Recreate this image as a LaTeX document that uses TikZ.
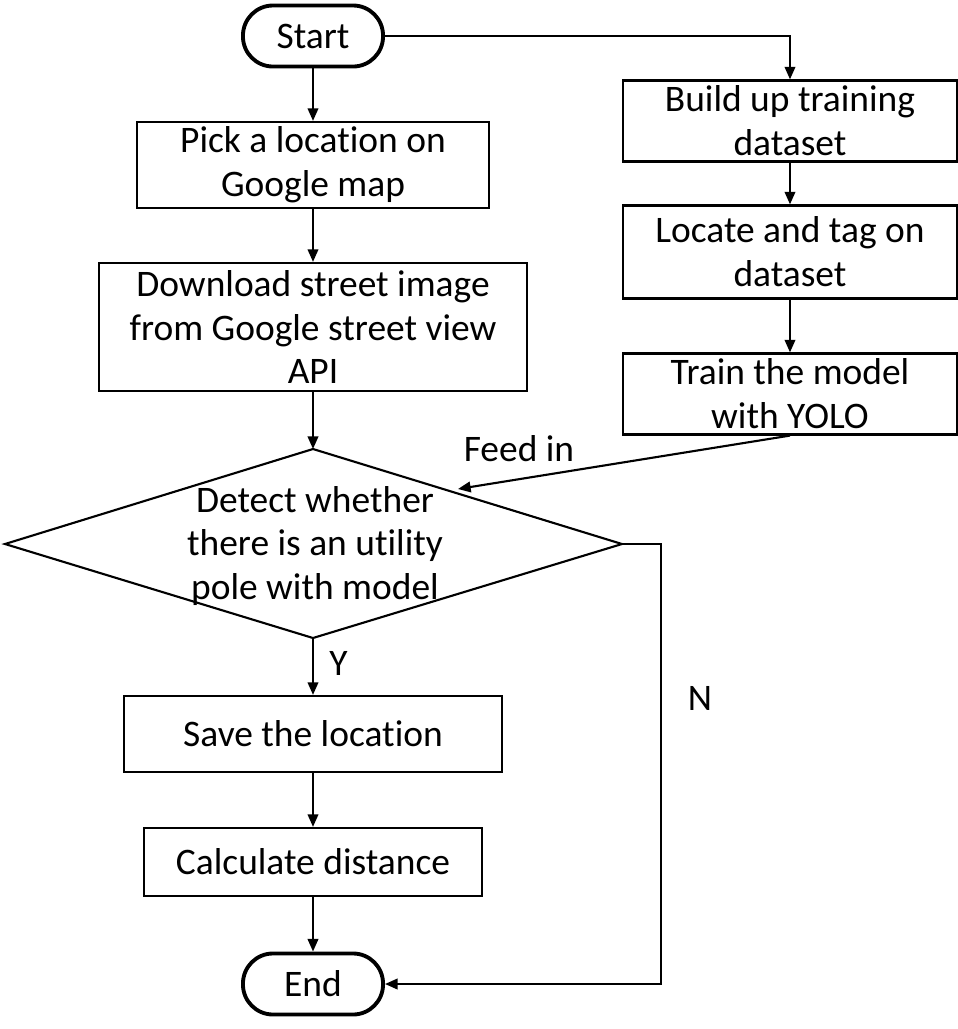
\documentclass[tikz,border=0pt]{standalone}
\usepackage{fontspec}
\setmainfont[Ligatures=NoCommon]{Carlito}
\usetikzlibrary{arrows.meta}

\begin{document}
\begin{tikzpicture}[x=0.01cm, y=-0.01cm,
    every node/.style={font=\fontsize{10.65pt}{12.5pt}\selectfont, align=center},
    box/.style={draw, line width=0.6pt, inner sep=0pt},
    term/.style={draw, line width=1.1pt, rounded corners=0.3cm, minimum width=1.4cm, minimum height=0.61cm},
    arr/.style={-{Triangle[length=3.6pt,width=3pt]}, line width=0.6pt}]
      \useasboundingbox (0,0) rectangle (958,1029);
      % start and end
      \node[term] (start) at (313,36) {Start};
      \node[term] (end) at (313,984) {End};
      % left column
      \node[box, minimum width=3.51cm, minimum height=0.86cm] (pick) at (313,165) {Pick a location on\\Google map};
      \node[box, minimum width=4.28cm, minimum height=1.28cm] (download) at (313,327) {Download street image\\from Google street view\\API};
      % decision diamond
      \coordinate (dtop) at (313,449);
      \coordinate (dright) at (622,544);
      \coordinate (dbot) at (313,638);
      \coordinate (dleft) at (5,544);
      \draw[line width=0.6pt] (dtop) -- (dright) -- (dbot) -- (dleft) -- cycle;
      \node (detect) at (315,546) {Detect whether\\there is an utility\\pole with model};
      \node[box, minimum width=3.78cm, minimum height=0.76cm] (save) at (313,734) {Save the location};
      \node[box, minimum width=3.38cm, minimum height=0.68cm] (calc) at (313,862) {Calculate distance};
      % right column
      \node[box, minimum width=3.34cm, minimum height=0.81cm] (build) at (790,121) {Build up training\\dataset};
      \node[box, minimum width=3.34cm, minimum height=0.93cm] (locate) at (790,252) {Locate and tag on\\dataset};
      \node[box, minimum width=3.34cm, minimum height=0.81cm] (train) at (790,394) {Train the model\\with YOLO};
      % connectors
      \draw[arr] (start) -- (pick);
      \draw[arr] (pick) -- (download);
      \draw[arr] (download) -- (dtop);
      \draw[arr] (dbot) -- (save) node[pos=0.45, right=1pt] (yes) {Y};
      \draw[arr] (save) -- (calc);
      \draw[arr] (calc) -- (end);
      \draw[arr] (start.east) -| (build.north);
      \draw[arr] (build) -- (locate);
      \draw[arr] (locate) -- (train);
      \coordinate (feed) at (458,489);
      \draw[arr] (train.south) -- (feed);
      \node (feedin) at (519,449) {Feed in};
      \coordinate (nturn) at (661,544);
      \draw[arr] (dright) -- (nturn) |- (end.east);
      \node (no) at (700,698) {N};
\end{tikzpicture}
\end{document}
